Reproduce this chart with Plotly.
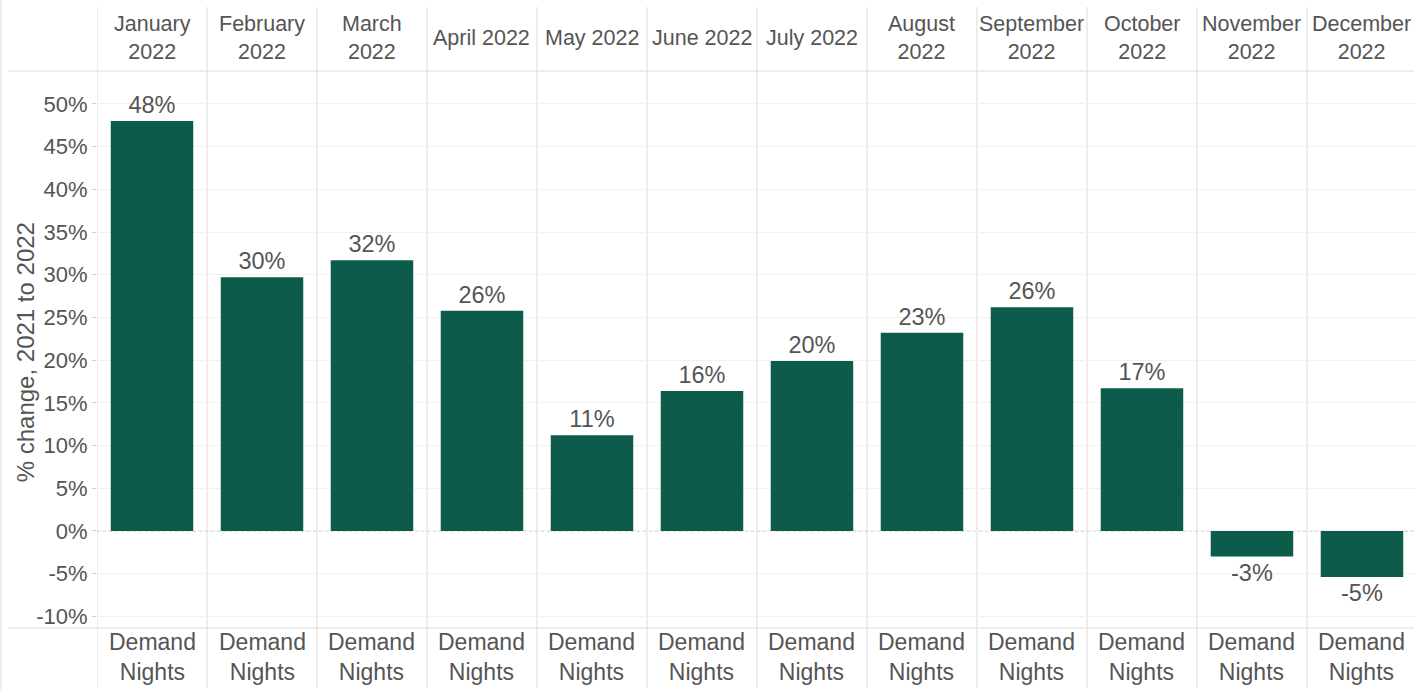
import plotly.graph_objects as go

# Year-over-year change in demand nights by month
months = ["January<br>2022", "February<br>2022", "March<br>2022", "April 2022",
          "May 2022", "June 2022", "July 2022", "August<br>2022",
          "September<br>2022", "October<br>2022", "November<br>2022", "December<br>2022"]
measure_label = "Demand<br>Nights"
pct_change = [48.0, 29.7, 31.7, 25.8, 11.2, 16.4, 19.9, 23.2, 26.2, 16.7, -3.0, -5.4]
y_ticks = list(range(-10, 55, 5))

BAR = "#0d5c4b"
TEXT = "#555555"
LINE = "#dcdcdc"
FONT = "Arial, Liberation Sans, sans-serif"

W, H = 1414, 691
L, T, B = 97, 71, 63
plot_w = W - L
plot_h = H - T - B

xs = list(range(len(months)))

fig = go.Figure(go.Bar(
    x=xs, y=pct_change, width=0.75,
    marker=dict(color=BAR, line=dict(width=0)),
    text=[f"{v:.0f}%" for v in pct_change],
    textposition="outside",
    textfont=dict(family=FONT, size=23.5, color=TEXT),
    cliponaxis=False,
    hoverinfo="skip",
))

shapes = []
# column separators running through header, plot and footer rows
for i in range(len(months) + 1):
    shapes.append(dict(type="line", xref="x", yref="paper",
                       x0=i - 0.5, x1=i - 0.5,
                       y0=-(60 / plot_h), y1=1 + (64 / plot_h),
                       line=dict(color=LINE, width=1), layer="below"))
# header and footer row borders
for yy in (0, 1):
    shapes.append(dict(type="line", xref="paper", yref="paper",
                       x0=-(L - 8) / plot_w, x1=1, y0=yy, y1=yy,
                       line=dict(color=LINE, width=1), layer="below"))
# dotted zero line
shapes.append(dict(type="line", xref="paper", yref="y", x0=0, x1=1, y0=0, y1=0,
                   line=dict(color="#b8b8b8", width=1, dash="dot"), layer="below"))
# thin pane edge on the left
shapes.append(dict(type="rect", xref="paper", yref="paper",
                   x0=-L / plot_w, x1=-(L - 2) / plot_w, y0=-B / plot_h, y1=1 + T / plot_h,
                   fillcolor="#e8f0f4", line=dict(width=0), layer="below"))

annotations = []
for i, m in enumerate(months):
    annotations.append(dict(x=i, y=1 + 33 / plot_h, xref="x", yref="paper",
                            text=m, showarrow=False, xanchor="center", yanchor="middle",
                            font=dict(family=FONT, size=21.5, color=TEXT)))
    annotations.append(dict(x=i, y=-29 / plot_h, xref="x", yref="paper",
                            text=measure_label, showarrow=False, xanchor="center",
                            yanchor="middle",
                            font=dict(family=FONT, size=23, color=TEXT)))
annotations.append(dict(x=-(L - 25) / plot_w, y=0.495, xref="paper", yref="paper",
                        text="% change, 2021 to 2022", textangle=-90, showarrow=False,
                        xanchor="center", yanchor="middle",
                        font=dict(family=FONT, size=24, color=TEXT)))

fig.update_layout(
    width=W, height=H,
    margin=dict(l=L, r=0, t=T, b=B, autoexpand=False),
    paper_bgcolor="white", plot_bgcolor="white",
    showlegend=False,
    shapes=shapes,
    annotations=annotations,
    xaxis=dict(range=[-0.5, 11.473], showticklabels=False, showgrid=False,
               zeroline=False, showline=False, fixedrange=True),
    yaxis=dict(range=[-11.36, 53.86], tickvals=y_ticks,
               ticktext=[f"{v}%" for v in y_ticks],
               tickfont=dict(family=FONT, size=22, color=TEXT),
               ticks="outside", ticklen=4, tickcolor="#cfcfcf",
               showgrid=True, gridcolor="#f1f1f1", gridwidth=1,
               zeroline=False, showline=False, fixedrange=True),
)

fig.write_html("out.html")
